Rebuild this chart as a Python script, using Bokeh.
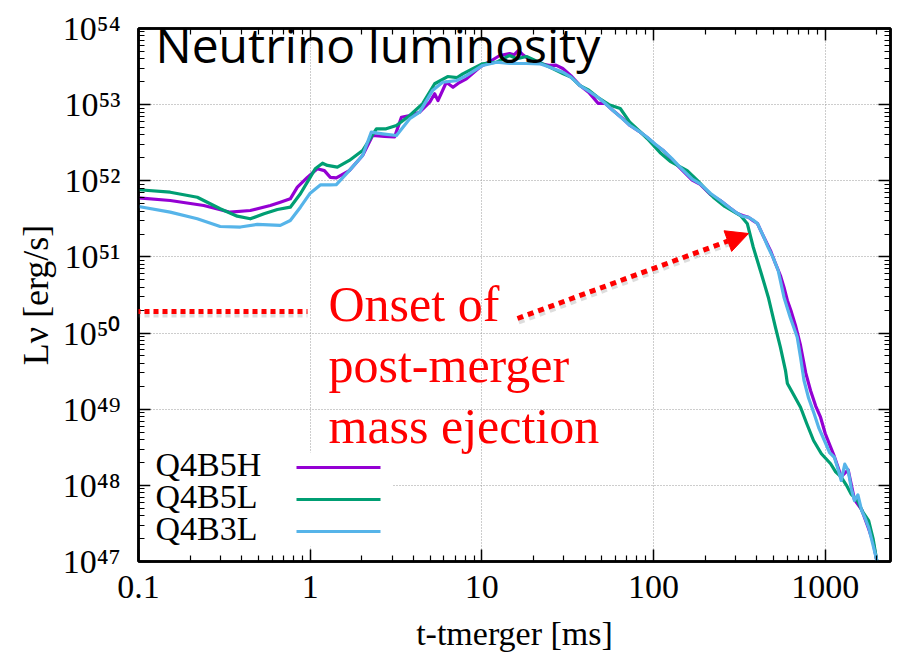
import math
from bokeh.plotting import figure
from bokeh.models import LogAxis, FixedTicker, Label, Arrow, NormalHead, BoxAnnotation
from bokeh.embed import file_html
from bokeh.resources import INLINE

# ---------------- data ----------------
t_q4b5h = [0.1, 0.153, 0.24, 0.342, 0.448, 0.586, 0.67, 0.766, 0.842, 0.963, 1.10, 1.21, 1.31, 1.42,
           1.69, 2.02, 2.31, 2.71, 3.10, 3.40, 3.80, 4.34, 4.97, 5.31, 5.55, 6.21, 6.79, 7.4, 8.13,
           9.72, 11.4, 12.7, 14.5, 15.4, 16.3, 17.2, 18.2, 20.0, 21.8, 24.9, 27.0, 29.6, 33.0, 37.3,
           42.0, 47.5, 52.0, 58.1, 65.0, 73.0, 82.0, 91.8, 102, 114, 128, 143, 168, 187, 215, 245,
           275, 308, 330, 357, 380, 403, 440, 480, 510, 548, 575, 602, 635, 671, 718, 770, 821, 880,
           939, 1000, 1075, 1130, 1240, 1360, 1480, 1630, 1790, 1900, 2000]
L_q4b5h = [5.97e51, 5.51e51, 4.73e51, 3.87e51, 4.07e51, 4.73e51, 5.23e51, 5.80e51, 8.24e51, 1.11e52,
           1.44e52, 1.36e52, 1.11e52, 1.09e52, 1.36e52, 2.15e52, 3.93e52, 3.82e52, 3.76e52, 6.84e52,
           7.20e52, 7.96e52, 1.08e53, 1.39e53, 1.13e53, 1.97e53, 1.69e53, 1.95e53, 2.18e53, 3.10e53,
           3.80e53, 4.42e53, 4.68e53, 4.50e53, 5.14e53, 4.60e53, 4.16e53, 3.80e53, 3.47e53, 3.27e53,
           3.30e53, 2.98e53, 2.40e53, 1.78e53, 1.45e53, 1.04e53, 1.05e53, 8.38e52, 6.80e52, 5.32e52,
           4.50e52, 3.70e52, 3.00e52, 2.50e52, 1.90e52, 1.47e52, 1.02e52, 9.00e51, 6.60e51, 5.51e51,
           4.50e51, 3.72e51, 3.50e51, 3.32e51, 3.00e51, 2.75e51, 1.80e51, 1.21e51, 8.50e50, 5.70e50,
           4.00e50, 2.68e50, 1.90e50, 1.26e50, 6.87e49, 3.00e49, 1.76e49, 1.10e49, 7.85e48, 4.80e48,
           3.17e48, 2.40e48, 1.30e48, 1.60e48, 6.50e47, 4.80e47, 2.70e47, 1.80e47, 1.00e47]

t_q4b5l = [0.1, 0.153, 0.22, 0.299, 0.376, 0.448, 0.538, 0.644, 0.766, 0.877, 1.00, 1.07, 1.18, 1.26,
           1.44, 1.69, 2.02, 2.43, 2.77, 3.18, 3.80, 4.52, 5.31, 6.32, 7.18, 7.74, 8.85, 10.1, 12.2,
           14.5, 16.0, 18.2, 20.0, 21.8, 25.0, 29.6, 33.0, 37.3, 42.0, 47.5, 55.0, 64.0, 73.0, 82.0,
           91.8, 109, 125, 157, 180, 223, 260, 321, 352, 381, 419, 466, 513, 548, 587, 602, 650, 718,
           780, 855, 950, 1075, 1150, 1240, 1330, 1420, 1540, 1650, 1790, 1900, 2000]
L_q4b5l = [7.62e51, 7.08e51, 6.08e51, 4.29e51, 3.43e51, 3.17e51, 3.68e51, 4.20e51, 4.50e51, 6.75e51,
           1.11e52, 1.44e52, 1.70e52, 1.59e52, 1.51e52, 1.85e52, 2.50e52, 4.82e52, 4.82e52, 5.32e52,
           7.20e52, 1.03e53, 1.88e53, 2.34e53, 2.27e53, 2.54e53, 2.96e53, 3.44e53, 3.61e53, 4.42e53,
           4.00e53, 4.29e53, 3.90e53, 3.56e53, 3.10e53, 2.56e53, 2.30e53, 1.78e53, 1.55e53, 1.24e53,
           1.00e53, 8.90e52, 5.82e52, 4.60e52, 3.59e52, 2.35e52, 1.80e52, 1.36e52, 1.01e52, 6.08e51,
           4.60e51, 3.50e51, 2.72e51, 1.34e51, 6.64e50, 2.96e50, 1.19e50, 6.52e49, 3.22e49, 2.18e49,
           1.60e49, 1.06e49, 6.50e48, 3.88e48, 2.60e48, 1.92e48, 1.50e48, 1.28e48, 1.00e48, 7.60e47,
           6.32e47, 4.50e47, 3.45e47, 2.00e47, 1.00e47]

t_q4b3l = [0.1, 0.153, 0.22, 0.299, 0.392, 0.492, 0.67, 0.766, 0.877, 1.00, 1.15, 1.31, 1.42, 1.69,
           2.02, 2.27, 2.64, 3.18, 3.80, 4.34, 5.16, 5.91, 7.11, 8.13, 10.1, 12.2, 14.5, 18.2, 21.8,
           24.9, 29.6, 33.0, 37.3, 42.0, 47.3, 52.0, 58.1, 65.0, 73.0, 82.0, 91.8, 102, 114, 128, 143,
           168, 187, 215, 245, 275, 308, 330, 357, 380, 403, 435, 465, 500, 532, 575, 625, 687, 718,
           752, 800, 862, 920, 989, 1060, 1130, 1190, 1240, 1300, 1360, 1420, 1480, 1550, 1630, 1700,
           1790, 1880, 2000]
L_q4b3l = [4.59e51, 3.87e51, 3.17e51, 2.51e51, 2.47e51, 2.67e51, 2.60e51, 3.01e51, 4.50e51, 6.87e51,
           8.85e51, 8.85e51, 8.90e51, 1.36e52, 2.15e52, 4.35e52, 4.14e52, 3.93e52, 6.52e52, 7.96e52,
           1.53e53, 1.97e53, 2.07e53, 2.41e53, 3.27e53, 3.61e53, 3.47e53, 3.47e53, 3.44e53, 3.10e53,
           2.67e53, 2.30e53, 1.78e53, 1.50e53, 1.25e53, 1.05e53, 8.38e52, 6.70e52, 5.32e52, 4.50e52,
           3.73e52, 3.05e52, 2.50e52, 1.95e52, 1.50e52, 1.05e52, 9.10e51, 6.80e51, 5.51e51, 4.50e51,
           3.72e51, 3.40e51, 3.32e51, 3.05e51, 2.75e51, 1.90e51, 1.34e51, 9.50e50, 6.64e50, 2.96e50,
           1.61e50, 8.83e49, 4.82e49, 2.40e49, 1.40e49, 8.70e48, 5.60e48, 3.88e48, 2.70e48, 2.34e48,
           1.60e48, 1.16e48, 1.90e48, 1.57e48, 9.00e47, 6.32e47, 7.50e47, 4.67e47, 3.80e47, 2.80e47,
           1.80e47, 1.03e47]

series_names = ["Q4B5H", "Q4B5L", "Q4B3L"]
series_colors = ["#9400D3", "#009E73", "#56B4E9"]

x_tick_values = [0.1, 1, 10, 100, 1000]
x_tick_labels = ["0.1", "1", "10", "100", "1000"]
y_tick_values = [1e47, 1e48, 1e49, 1e50, 1e51, 1e52, 1e53, 1e54]
y_tick_labels = ["10⁴⁷", "10⁴⁸", "10⁴⁹", "10⁵⁰", "10⁵¹", "10⁵²", "10⁵³", "10⁵⁴"]

x_title = "t-tmerger [ms]"
y_title = "Lν [erg/s]"
title_text = "Neutrino luminosity"
note_lines = ["Onset of", "post-merger", "mass ejection"]

# ---------------- layout helpers (canvas pixel -> frame screen units) ----------------
FL, FB = 138, 561
def sx(cx):
    return cx - FL
def sy(cy):
    return FB - cy

SERIF = "Liberation Serif"

p = figure(width=899, height=664, x_axis_type="log", y_axis_type="log",
           x_range=(0.1, 2400), y_range=(1e47, 1e54),
           output_backend="svg", toolbar_location=None,
           min_border_left=138, min_border_right=9, min_border_top=28, min_border_bottom=103)
p.background_fill_color = "white"
p.border_fill_color = "white"
p.outline_line_color = "black"
p.outline_line_width = 2.5

def minor_list(majors):
    out = []
    for m in majors:
        for k in range(2, 10):
            out.append(m * k)
    return out

xt = FixedTicker(ticks=x_tick_values, minor_ticks=minor_list([0.1, 1, 10, 100, 1000]))
yt = FixedTicker(ticks=y_tick_values, minor_ticks=minor_list(y_tick_values[:-1]))

def style_axis(ax, ticker, labels=None, values=None, show_labels=True):
    ax.ticker = ticker
    ax.axis_line_color = "black"
    ax.axis_line_width = 2.5
    ax.major_tick_in = 12
    ax.major_tick_out = 0
    ax.minor_tick_in = 6
    ax.minor_tick_out = 0
    ax.major_tick_line_color = "black"
    ax.major_tick_line_width = 1.5
    ax.minor_tick_line_color = "black"
    ax.minor_tick_line_width = 1.2
    if show_labels:
        ax.major_label_overrides = {v: s for v, s in zip(values, labels)}
        ax.major_label_text_font = SERIF
        ax.major_label_text_font_size = "34px"
        ax.major_label_text_color = "black"
    else:
        ax.major_label_text_font_size = "2px"
        ax.major_label_text_color = None
        ax.major_label_standoff = 0

xa = p.xaxis[0]
ya = p.yaxis[0]
style_axis(xa, xt, x_tick_labels, x_tick_values)
style_axis(ya, yt, y_tick_labels, y_tick_values)
xa.major_label_standoff = 14
ya.major_label_standoff = 18

xa.axis_label = x_title
xa.axis_label_text_font = SERIF
xa.axis_label_text_font_size = "34px"
xa.axis_label_text_font_style = "normal"
xa.axis_label_text_color = "black"
xa.axis_label_standoff = 14

ya.axis_label = y_title
ya.axis_label_text_font = SERIF
ya.axis_label_text_font_size = "36px"
ya.axis_label_text_font_style = "normal"
ya.axis_label_text_color = "black"
ya.axis_label_standoff = 4

top_ax = LogAxis()
style_axis(top_ax, xt, show_labels=False)
p.add_layout(top_ax, "above")
right_ax = LogAxis()
style_axis(right_ax, yt, show_labels=False)
p.add_layout(right_ax, "right")

p.xgrid.ticker = xt
p.ygrid.ticker = yt
for g in (p.xgrid[0], p.ygrid[0]):
    g.grid_line_color = "#9a9a9a"
    g.grid_line_dash = "1 2"
    g.grid_line_width = 1

# ---------------- curves ----------------
for t, L, c in zip([t_q4b5h, t_q4b5l, t_q4b3l], [L_q4b5h, L_q4b5l, L_q4b3l], series_colors):
    p.line(t, L, line_color=c, line_width=3.2, line_join="round")

# Label text sits ~0.4 em below its anchor in this renderer: compensate.
def lab(text, cx, baseline_cy, size_px, style="normal", color="black", font=SERIF):
    p.add_layout(Label(x=sx(cx), y=sy(baseline_cy - 0.4 * size_px), x_units="screen",
                       y_units="screen", text=text, text_font=font,
                       text_font_size=f"{size_px}px", text_font_style=style,
                       text_color=color, text_align="left", text_baseline="alphabetic"))

# ---------------- manual legend (label left, sample right) ----------------
p.add_layout(BoxAnnotation(left=sx(150), right=sx(392), top=sy(452), bottom=sy(546),
                           left_units="screen", right_units="screen", top_units="screen",
                           bottom_units="screen", fill_color="white", fill_alpha=1.0,
                           line_alpha=0))
row_y = [467, 499, 531]
for name, c, ry in zip(series_names, series_colors, row_y):
    lab(name, 155, ry + 11, 34)
    p.add_layout(Arrow(end=None, x_start=sx(296), y_start=sy(ry), x_end=sx(380), y_end=sy(ry),
                       start_units="screen", end_units="screen", line_color=c, line_width=3.2))

# ---------------- title inside ----------------
lab(title_text, 155, 63, 48, font="Open Sans")

# ---------------- red annotation ----------------
for i, line in enumerate(note_lines):
    lab(line, 328, 323 + 61 * i, 50, color="#FF0000")

# shadows
p.add_layout(Arrow(end=None, x_start=sx(0), y_start=sy(314), x_end=sx(307), y_end=sy(314),
                   start_units="screen", end_units="screen", line_color="#777777",
                   line_alpha=0.25, line_width=6, line_dash="5 4"))
p.add_layout(Arrow(end=None, x_start=sx(518), y_start=sy(321), x_end=sx(728), y_end=sy(243),
                   start_units="screen", end_units="screen", line_color="#777777",
                   line_alpha=0.25, line_width=6, line_dash="6 5"))
# red dotted lines
p.add_layout(Arrow(end=None, x_start=sx(0), y_start=sy(311), x_end=sx(307), y_end=sy(311),
                   start_units="screen", end_units="screen", line_color="#FF0000",
                   line_width=5, line_dash="5 4"))
p.add_layout(Arrow(end=NormalHead(size=22, fill_color="#FF0000", line_color="#FF0000"),
                   x_start=sx(517), y_start=sy(318), x_end=sx(748), y_end=sy(233),
                   start_units="screen", end_units="screen", line_color="#FF0000",
                   line_width=5, line_dash="6 5"))

open("out.html", "w").write(file_html(p, INLINE))
